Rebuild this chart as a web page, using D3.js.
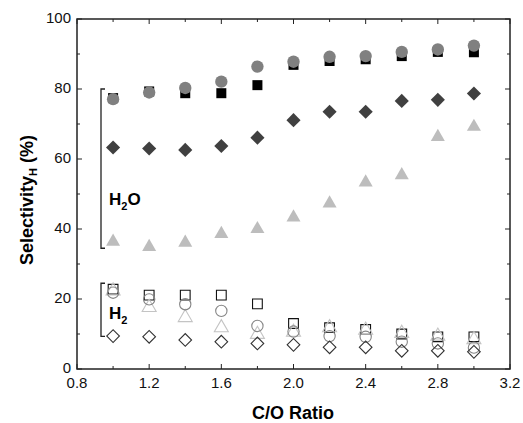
<!DOCTYPE html>
<html><head><meta charset="utf-8">
<script src="https://cdn.jsdelivr.net/npm/d3@7"></script>
<style>body{margin:0;background:#fff}svg{display:block}text{font-family:"Liberation Sans",Arial,sans-serif}</style>
</head><body><svg id="c" width="523" height="423"></svg>
<script>
const coRatio = [1.0,1.2,1.4,1.6,1.8,2.0,2.2,2.4,2.6,2.8,3.0];
// H2O selectivity (filled markers)
const h2oSquare   = [77.4,79.3,78.8,78.8,81.1,86.9,88.0,88.5,89.4,90.6,90.5];
const h2oCircle   = [77.1,79.0,80.3,82.1,86.4,87.8,89.2,89.4,90.6,91.3,92.4];
const h2oDiamond  = [63.3,63.0,62.6,63.7,66.1,71.1,73.5,73.5,76.6,76.9,78.7];
const h2oTriangle = [36.4,34.9,36.1,38.6,40.0,43.3,47.3,53.3,55.4,66.3,69.2];
// H2 selectivity (open markers)
const h2Square   = [22.8,21.1,21.1,21.1,18.6,13.0,11.8,11.3,10.0,9.2,9.2];
const h2Triangle = [22.3,17.6,14.7,11.8,9.9,10.5,11.8,11.1,10.2,9.4,8.4];
const h2Circle   = [21.8,19.9,18.5,16.6,12.3,10.7,9.4,9.2,7.8,7.3,6.1];
const h2Diamond  = [9.4,9.2,8.3,7.8,7.3,6.9,6.2,6.2,5.2,5.2,4.9];
const xTicks = [0.8,1.2,1.6,2.0,2.4,2.8,3.2];
const yTicks = [0,20,40,60,80,100];

const svg = d3.select("#c");
const L=77,R=510,T=19,B=369;
const x = d3.scaleLinear().domain([0.8,3.2]).range([L,R]);
const y = d3.scaleLinear().domain([0,100]).range([B,T]);
const axisCol="#222";

// minor/major ticks (inward) on all sides
const g = svg.append("g");
const xMinor = d3.range(0.8,3.2001,0.2);
const yMinor = d3.range(0,100.001,10);
xMinor.forEach(v=>{
  const major = xTicks.some(t=>Math.abs(t-v)<1e-6);
  const len = major?5:3;
  g.append("line").attr("x1",x(v)).attr("x2",x(v)).attr("y1",B).attr("y2",B-len).attr("stroke",axisCol).attr("stroke-width",1);
  g.append("line").attr("x1",x(v)).attr("x2",x(v)).attr("y1",T).attr("y2",T+len).attr("stroke",axisCol).attr("stroke-width",1);
});
yMinor.forEach(v=>{
  const major = yTicks.some(t=>Math.abs(t-v)<1e-6);
  const len = major?5:3;
  g.append("line").attr("y1",y(v)).attr("y2",y(v)).attr("x1",L).attr("x2",L+len).attr("stroke",axisCol).attr("stroke-width",1);
  g.append("line").attr("y1",y(v)).attr("y2",y(v)).attr("x1",R).attr("x2",R-len).attr("stroke",axisCol).attr("stroke-width",1);
});
g.append("rect").attr("x",L).attr("y",T).attr("width",R-L).attr("height",B-T).attr("fill","none").attr("stroke",axisCol).attr("stroke-width",1.5);

// tick labels
svg.selectAll(".xl").data(xTicks).enter().append("text")
  .attr("x",d=>x(d)).attr("y",388).attr("text-anchor","middle").attr("font-size",15).attr("fill","#111")
  .text(d=>d.toFixed(1));
svg.selectAll(".yl").data(yTicks).enter().append("text")
  .attr("x",L-6).attr("y",d=>y(d)+4).attr("text-anchor","end").attr("font-size",15).attr("fill","#111")
  .text(d=>d);

// axis titles
svg.append("text").attr("x",293).attr("y",419).attr("text-anchor","middle").attr("font-size",18).attr("font-weight","bold").text("C/O Ratio");
const yt = svg.append("text").attr("transform","translate(33,200) rotate(-90)").attr("text-anchor","middle").attr("font-size",18).attr("font-weight","bold");
yt.append("tspan").text("Selectivity");
yt.append("tspan").attr("font-size",11).attr("dy",4).text("H");
yt.append("tspan").attr("dy",-4).text(" (%)");

// brackets
function bracket(v0,v1){
  const bx=101;
  svg.append("path").attr("d",`M${bx+4},${y(v0)}H${bx}V${y(v1)}H${bx+4}`).attr("fill","none").attr("stroke","#222").attr("stroke-width",1.3);
}
bracket(80,34.5);
bracket(24.5,9.3);
const t1 = svg.append("text").attr("x",109).attr("y",205).attr("font-size",17).attr("font-weight","bold");
t1.append("tspan").text("H");
t1.append("tspan").attr("font-size",11).attr("dy",5).text("2");
t1.append("tspan").attr("dy",-5).text("O");
const t2 = svg.append("text").attr("x",109).attr("y",319).attr("font-size",17).attr("font-weight","bold");
t2.append("tspan").text("H");
t2.append("tspan").attr("font-size",11).attr("dy",5).text("2");

// markers
const sym = {
  square: d3.symbol().type(d3.symbolSquare),
  circle: d3.symbol().type(d3.symbolCircle),
  triangle: d3.symbol().type(d3.symbolTriangle),
  diamond: d3.symbol().type(d3.symbolSquare)
};
function series(vals,type,size,fill,stroke,sw){
  const rot = type==="diamond"?45:0;
  svg.append("g").selectAll("path").data(vals).enter().append("path")
    .attr("d",sym[type].size(size)())
    .attr("transform",(d,i)=>`translate(${x(coRatio[i])},${y(d)}) rotate(${rot})`)
    .attr("fill",fill).attr("stroke",stroke).attr("stroke-width",sw);
}
series(h2oTriangle,"triangle",85,"#bdbdbd","none",0);
series(h2oDiamond,"diamond",100,"#404040","none",0);
series(h2oSquare,"square",100,"#000","none",0);
series(h2oCircle,"circle",120,"#808080","none",0);

series(h2Square,"square",95,"none","#111",1.1);
series(h2Triangle,"triangle",85,"none","#c4c4c4",1.1);
series(h2Circle,"circle",100,"none","#858585",1.1);
series(h2Diamond,"diamond",80,"none","#333",1.1);
</script></body></html>
